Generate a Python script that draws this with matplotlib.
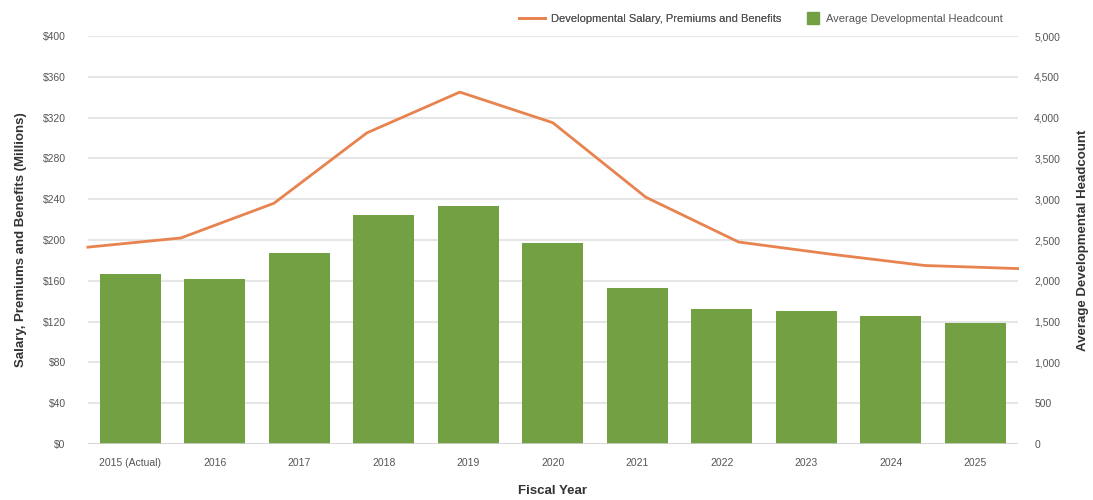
import numpy as np
import matplotlib.pyplot as plt
from matplotlib.lines import Line2D
from matplotlib.ticker import FuncFormatter

plt.rcParams['font.family'] = ['Liberation Sans', 'DejaVu Sans']

years = ['2015 (Actual)', '2016', '2017', '2018', '2019', '2020',
         '2021', '2022', '2023', '2024', '2025']
salary = [193, 202, 236, 305, 345, 315, 242, 198, 186, 175, 172]
headcount = [2080, 2025, 2335, 2810, 2920, 2465, 1915, 1660, 1630, 1570, 1485]

green = '#72a043'
orange = '#e8834f'
grid_c = '#e6e6e6'
tick_c = '#555555'

fig = plt.figure(figsize=(10.93, 5), dpi=100)
ax = fig.add_axes([0.0805, 0.112, 0.8505, 0.816])
ax2 = ax.twinx()

x = np.arange(len(years))
ax2.bar(x, headcount, width=0.72, color=green, zorder=2)
ax2.set_ylim(0, 5000)
ax2.set_yticks(np.arange(0, 5001, 500))
ax2.yaxis.set_major_formatter(FuncFormatter(lambda v, p: f'{int(v):,}'))

# line points run edge to edge across the plot
line_x = np.linspace(-0.5, 10.5, len(salary))
ax.plot(line_x, salary, color=orange, lw=2, zorder=5, clip_on=False)
ax.set_ylim(0, 400)
ax.set_yticks(np.arange(0, 401, 40))
ax.yaxis.set_major_formatter(FuncFormatter(lambda v, p: f'${int(v)}'))
ax.set_xlim(-0.5, 10.5)
ax.set_xticks(x)
ax.set_xticklabels(years)

# draw the salary axes above the bars, transparent
ax.set_zorder(ax2.get_zorder() + 1)
ax.patch.set_visible(False)
for v in np.arange(40, 401, 40):
    ax2.axhline(v * 12.5, color=grid_c, lw=1.5, zorder=0)
ax2.axhline(0, color='#cfcfcf', lw=1.2, zorder=3)

for a in (ax, ax2):
    for s in a.spines.values():
        s.set_visible(False)
    a.tick_params(length=0, labelsize=7.5, labelcolor=tick_c)
ax.tick_params(axis='y', pad=16)
ax.tick_params(axis='x', pad=10)
ax2.tick_params(axis='y', pad=12)

ax.set_ylabel('Salary, Premiums and Benefits (Millions)', fontsize=9.5,
              fontweight='bold', color='#333333', labelpad=11)
ax2.set_ylabel('Average Developmental Headcount', fontsize=9.5,
               fontweight='bold', color='#333333', labelpad=12)
ax.set_xlabel('Fiscal Year', fontsize=9.5, fontweight='bold',
              color='#333333', labelpad=12)

# legend: line entry and square entry
line_h = Line2D([], [], color=orange, lw=2)
sq_h = Line2D([], [], color=green, marker='s', markersize=8, linestyle='None')
leg1 = fig.legend([line_h], ['Developmental Salary, Premiums and Benefits'],
                  loc='center left', bbox_to_anchor=(0.475, 0.963),
                  frameon=False, fontsize=8, labelcolor=tick_c,
                  handlelength=2.3, handletextpad=0.6, borderpad=0,
                  borderaxespad=0)
leg2 = fig.legend([sq_h], ['Average Developmental Headcount'],
                  loc='center left', bbox_to_anchor=(0.739, 0.963),
                  frameon=False, fontsize=8, labelcolor=tick_c,
                  handlelength=1.0, handletextpad=0.6, borderpad=0,
                  borderaxespad=0)
fig.add_artist(leg1)

fig.savefig('out.png', dpi=100)
